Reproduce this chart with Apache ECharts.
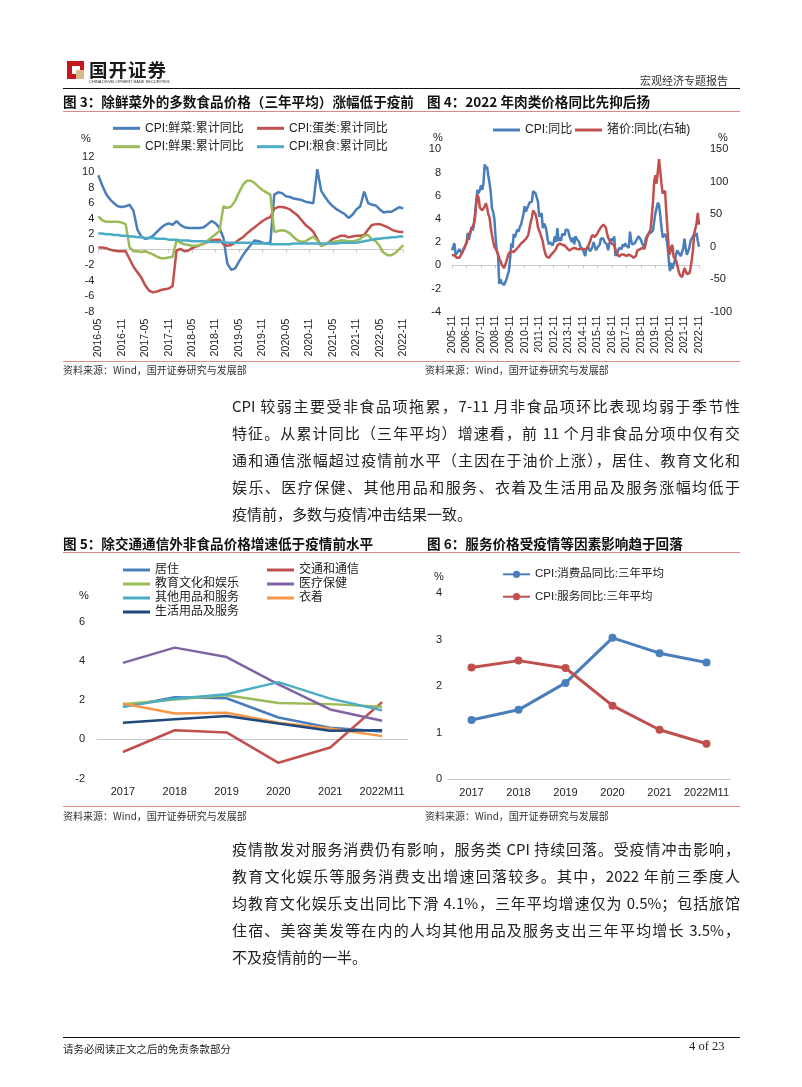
<!DOCTYPE html>
<html><head><meta charset="utf-8">
<script src="https://cdn.jsdelivr.net/npm/echarts@6.0.0/dist/echarts.min.js"></script>
<style>
html,body{margin:0;padding:0;background:#fff;}
#page{position:relative;width:802px;height:1087px;background:#fff;overflow:hidden;font-family:'Noto Sans CJK SC',sans-serif;color:#222;}
#c{position:absolute;left:0;top:0;width:802px;height:1087px;}
.t{position:absolute;white-space:nowrap;}
.rule{position:absolute;height:0;}
.ln{position:absolute;height:27px;line-height:27px;font-size:15px;color:#222;text-align:justify;text-align-last:justify;white-space:nowrap;}
.ln.last{text-align-last:left;}
.ttl{position:absolute;font-size:13.6px;font-weight:bold;color:#111;white-space:nowrap;}
.src{position:absolute;font-size:10px;color:#333;white-space:nowrap;}
.pct{position:absolute;font-size:11px;color:#222;font-family:'Liberation Sans',sans-serif;}
</style></head>
<body><div id="page">
<div id="c"></div>
</div>
<script>
// ---------- Figure 3 data (monthly, 2016-05 .. 2022-11) ----------
const f3Veg = [9.6,8.3,7.2,6.5,6.0,5.6,5.5,5.6,5.8,5.0,2.6,1.7,1.4,1.5,1.8,2.3,2.8,3.2,3.4,3.2,3.7,3.2,2.9,2.8,2.8,2.8,2.8,2.9,3.3,3.7,3.4,2.8,1.5,-1.8,-2.6,-2.4,-1.5,-0.7,0.0,0.6,1.2,1.1,0.9,0.8,0.9,7.1,7.4,7.3,6.9,6.8,6.6,6.5,6.4,6.2,6.1,6.0,10.4,7.6,6.8,6.1,5.6,5.2,4.9,4.6,4.1,4.5,5.2,5.6,7.5,6.0,5.8,5.7,5.2,4.8,4.9,4.9,5.2,5.5,5.3];
const f3Egg = [0.3,0.3,0.2,0.0,-0.1,-0.2,-0.2,-0.2,-1.2,-2.2,-2.9,-3.6,-4.6,-5.3,-5.5,-5.4,-5.2,-5.1,-5.0,-4.7,-0.1,0.1,-0.2,-0.1,0.2,0.4,0.6,0.8,1.0,1.2,1.3,1.3,0.7,0.5,0.6,0.9,1.3,1.6,2.1,2.5,2.9,3.3,3.7,4.0,4.2,5.3,5.5,5.5,5.4,5.2,4.8,4.4,3.8,3.2,2.8,2.3,1.4,0.5,0.7,1.0,1.4,1.6,1.8,1.8,1.6,1.7,1.8,1.8,1.9,2.6,3.2,3.3,3.3,3.1,2.9,2.6,2.4,2.3,2.3];
const f3Fruit = [4.3,3.8,3.6,3.6,3.6,3.6,3.5,3.3,0.3,-0.2,-0.2,-0.3,-0.2,-0.4,-0.6,-0.9,-1.1,-1.1,-1.0,-0.9,1.2,0.9,0.7,0.6,0.5,0.5,0.6,0.8,1.2,1.6,2.0,2.4,5.6,5.4,5.6,6.3,7.4,8.4,8.9,8.9,8.6,8.1,7.7,7.4,7.1,2.3,2.4,2.5,2.4,2.1,1.6,1.2,1.0,1.1,1.4,1.7,1.2,0.5,0.7,0.9,1.0,1.1,1.2,1.2,1.1,1.1,1.2,1.4,1.8,1.9,1.3,1.1,0.4,-0.4,-0.7,-0.7,-0.4,0.1,0.6];
const f3Grain = [2.1,2.1,2.0,2.0,1.9,1.9,1.8,1.8,1.7,1.7,1.6,1.6,1.5,1.5,1.5,1.4,1.4,1.4,1.3,1.3,1.3,1.2,1.2,1.2,1.1,1.1,1.1,1.1,1.0,1.0,1.0,1.0,1.0,0.9,0.9,0.9,0.9,0.9,0.9,0.9,0.8,0.8,0.8,0.8,0.7,0.7,0.7,0.7,0.7,0.7,0.8,0.8,0.8,0.8,0.8,0.8,0.8,0.8,0.8,0.8,0.8,0.8,0.9,0.9,0.9,0.9,0.9,1.0,1.1,1.2,1.3,1.4,1.4,1.5,1.5,1.6,1.6,1.7,1.7];
const f3Names = ['CPI:鲜菜:累计同比','CPI:蛋类:累计同比','CPI:鲜果:累计同比','CPI:粮食:累计同比'];

// ---------- Figure 4 data (monthly, 2005-11 .. 2022-11) ----------
const f4Cpi = [1.3,1.6,
1.9,0.9,0.8,1.2,1.4,1.5,1.0,1.3,1.5,1.4,1.9,2.8,
2.2,2.7,3.3,3.0,3.4,4.4,5.6,6.5,6.2,6.5,6.9,6.5,
7.1,8.7,8.3,8.5,7.7,7.1,6.3,4.9,4.6,4.0,2.4,1.2,
1.0,-1.6,-1.2,-1.5,-1.4,-1.7,-1.8,-1.2,-0.8,-0.5,0.6,1.9,
1.5,2.7,2.4,2.8,3.1,2.9,3.3,3.5,3.6,4.4,5.1,4.6,
4.9,4.9,5.4,5.3,5.5,6.4,6.5,6.2,6.1,5.5,4.2,4.1,
4.5,3.2,3.6,3.4,3.0,2.2,1.8,2.0,1.9,1.7,2.0,2.5,
2.0,3.2,2.1,2.4,2.1,2.7,2.7,2.6,3.1,3.2,3.0,2.5,
2.5,2.0,2.4,1.8,2.5,2.3,2.3,2.0,1.6,1.6,1.4,1.5,
0.8,1.4,1.4,1.5,1.2,1.4,1.6,2.0,1.6,1.3,1.5,1.6,
1.8,2.3,2.3,2.3,2.0,1.9,1.8,1.3,1.9,2.1,2.3,2.1,
2.5,0.8,0.9,1.2,1.5,1.5,1.4,1.8,1.6,1.9,1.7,1.8,
1.5,2.9,2.1,1.8,1.8,1.9,2.1,2.3,2.5,2.5,2.2,1.9,
1.7,1.5,2.3,2.5,2.7,2.7,2.8,2.8,3.0,3.8,4.5,4.5,
5.4,5.2,4.3,3.3,2.4,2.5,2.7,2.4,1.7,0.5,-0.5,0.2,
-0.3,-0.2,0.4,0.9,1.3,1.1,1.0,0.8,0.7,1.5,2.3,1.5,
0.9,0.9,1.5,2.1,2.1,2.5,2.7,2.5,2.8,2.1,1.6];
const f4Pork = [-13,-12,
-13,-15,-17,-18,-17,-14,-11,-7,-3,2,7,12,
18,22,27,30,35,45,65,80,75,60,57,56,
55,62,67,60,50,45,30,18,8,0,-3,-6,
-12,-18,-22,-27,-30,-33,-30,-22,-15,-10,-8,-7,
-9,-8,-6,-4,-3,0,3,5,6,8,10,12,
13,18,28,38,45,56,55,50,42,30,25,20,
18,8,-3,-10,-15,-18,-17,-14,-12,-10,-8,-5,
-3,2,4,5,4,3,4,2,0,-2,-5,-6,
-5,-3,-4,-2,-2,-3,-5,-4,-4,-3,-5,-4,
-5,-3,0,3,8,14,18,17,15,16,20,24,
26,30,32,34,36,30,21,14,10,8,5,5,
2,-5,-10,-12,-15,-14,-12,-13,-12,-13,-14,-15,
-12,-13,-14,-15,-17,-18,-14,-6,-5,-4,-3,-2,
-5,-3,5,14,18,21,27,47,69,101,110,97,
116,135,116,97,82,82,86,53,26,-3,-12,-1,
3,-15,-18,-21,-24,-36,-43,-45,-47,-44,-33,-37,
-42,-42,-41,-33,-21,-6,20,22,36,52,34];
const f4Names = ['CPI:同比','猪价:同比(右轴)'];

// ---------- Figure 5 / 6 data (annual) ----------
const yearCats = ['2017','2018','2019','2020','2021','2022M11'];
const f5Names = ['居住','交通和通信','教育文化和娱乐','医疗保健','其他用品和服务','衣着','生活用品及服务'];
const f5Housing = [1.66,2.15,2.10,1.12,0.60,0.40];
const f5Transport = [-0.64,0.47,0.36,-1.19,-0.41,1.90];
const f5Education = [1.80,2.03,2.25,1.86,1.80,1.66];
const f5Medical = [3.90,4.68,4.20,2.81,1.53,0.95];
const f5Other = [1.66,2.08,2.30,2.92,2.08,1.49];
const f5Clothing = [1.83,1.32,1.36,0.85,0.56,0.17];
const f5Household = [0.85,1.03,1.19,0.81,0.44,0.47];
const f6Names = ['CPI:消费品同比:三年平均','CPI:服务同比:三年平均'];
const f6Goods = [1.27,1.49,2.07,3.04,2.71,2.51];
const f6Services = [2.40,2.55,2.39,1.58,1.06,0.76];

// ---------- page text ----------
const para1 = ['CPI 较弱主要受非食品项拖累，7-11 月非食品项环比表现均弱于季节性',
'特征。从累计同比（三年平均）增速看，前 11 个月非食品分项中仅有交',
'通和通信涨幅超过疫情前水平（主因在于油价上涨），居住、教育文化和',
'娱乐、医疗保健、其他用品和服务、衣着及生活用品及服务涨幅均低于',
'疫情前，多数与疫情冲击结果一致。'];
const para2 = ['疫情散发对服务消费仍有影响，服务类 CPI 持续回落。受疫情冲击影响，',
'教育文化娱乐等服务消费支出增速回落较多。其中，2022 年前三季度人',
'均教育文化娱乐支出同比下滑 4.1%，三年平均增速仅为 0.5%；包括旅馆',
'住宿、美容美发等在内的人均其他用品及服务支出三年平均增长 3.5%，',
'不及疫情前的一半。'];

// month label helper (category names only)
function months(y, m, n){const a=[];for(let i=0;i<n;i++){const mm=((m-1+i)%12)+1;const yy=y+Math.floor((m-1+i)/12);a.push(yy+'-'+(mm<10?'0':'')+mm);}return a;}
const f3Cats = months(2016,5,f3Veg.length);
const f4Cats = months(2005,11,f4Cpi.length);

const C = {blue:'#4a7ebb',red:'#c0504d',green:'#9bbb59',cyan:'#4bacc6',purple:'#8064a2',orange:'#f79646',navy:'#1f497d'};
const FF = "'Liberation Sans','Noto Sans CJK SC',sans-serif";

// ---------- HTML text ----------
const page = document.getElementById('page');
function add(html, cls, style){const d=document.createElement('div');d.className=cls;d.innerHTML=html;Object.assign(d.style,style);page.appendChild(d);return d;}
function rule(x1,x2,y,w,col){add('','rule',{left:x1+'px',top:y+'px',width:(x2-x1)+'px',borderTop:w+'px solid '+col});}

// header
add('<div style="position:absolute;left:0;top:0;width:17px;height:18px;background:#c8161d"></div><div style="position:absolute;left:5px;top:5px;width:8px;height:8px;background:#fff"></div><div style="position:absolute;left:9px;top:9px;width:8px;height:9px;background:#d8b98a"></div>','t',{left:'67px',top:'61px',width:'17px',height:'18px'});
add('国开证券','t',{left:'89px',top:'56px',fontSize:'18.5px',fontWeight:'bold',color:'#1a1a1a',letterSpacing:'1px'});
add('CHINA DEVELOPMENT BANK SECURITIES','t',{left:'89px',top:'79px',fontSize:'8px',transform:'scale(0.5)',transformOrigin:'0 0',color:'#333',fontFamily:"'Liberation Sans',sans-serif"});
add('宏观经济专题报告','t',{left:'640px',top:'72px',fontSize:'11px',color:'#333'});
rule(63,740,88,1.5,'#111');

// figure titles
add('图 3：除鲜菜外的多数食品价格（三年平均）涨幅低于疫前','ttl',{left:'63px',top:'91px'});
add('图 4：2022 年肉类价格同比先抑后扬','ttl',{left:'427px',top:'91px'});
rule(63,740,111,1,'#d9898a');
rule(63,740,361,1,'#d9898a');
add('资料来源：Wind，国开证券研究与发展部','src',{left:'63px',top:'362px'});
add('资料来源：Wind，国开证券研究与发展部','src',{left:'425px',top:'362px'});
add('%','pct',{left:'81px',top:'132px'});
add('%','pct',{left:'433px',top:'131px'});
add('%','pct',{left:'718px',top:'131px'});

add('图 5：除交通通信外非食品价格增速低于疫情前水平','ttl',{left:'63px',top:'533px'});
add('图 6：服务价格受疫情等因素影响趋于回落','ttl',{left:'427px',top:'533px'});
rule(63,740,552,1,'#d9898a');
rule(63,740,806,1,'#d9898a');
add('资料来源：Wind，国开证券研究与发展部','src',{left:'63px',top:'808px'});
add('资料来源：Wind，国开证券研究与发展部','src',{left:'425px',top:'808px'});
add('%','pct',{left:'79px',top:'589px'});
add('%','pct',{left:'434px',top:'570px'});

// paragraphs
function para(lines, yc0, left, right, indent){
  lines.forEach((s,i)=>{
    const l = i===0 ? left+indent : left;
    add(s,'ln'+(i===lines.length-1?' last':''),{left:l+'px',width:(right-l)+'px',top:(yc0+27*i-13.5)+'px'});
  });
}
para(para1,405,232,740,0);
para(para2,848,232,740,0);

// footer
rule(63,740,1037,1.5,'#111');
add('请务必阅读正文之后的免责条款部分','t',{left:'63px',top:'1041px',fontSize:'10.5px',color:'#222'});
add('4 of 23','t',{left:'689px',top:'1039px',fontSize:'12.5px',color:'#222',fontFamily:"'Liberation Serif',serif"});

// ---------- ECharts ----------
const chart = echarts.init(document.getElementById('c'), null, {renderer:'canvas'});
function leg(name, x, yc, extra){
  return Object.assign({data:[name], left:x, top:yc-7, padding:0, itemWidth:27, itemHeight:3, icon:'rect', selectedMode:false,
    textStyle:{fontSize:12, color:'#222', lineHeight:14, fontFamily:FF}}, extra||{});
}
const lab = {fontSize:11, color:'#222', fontFamily:FF};
function line(name, data, color, xi, yi, w){
  return {name, type:'line', data, xAxisIndex:xi, yAxisIndex:yi, symbol:'none', smooth:false,
    lineStyle:{color, width:w||2.5}, itemStyle:{color}, silent:true};
}
const grids = [
  {left:98.3, top:156.7, width:305, height:155},
  {left:452, top:149.3, width:247, height:162.4},
  {left:97, top:621.7, width:311, height:157},
  {left:448, top:593.3, width:282, height:185.7}
];
const option = {
  animation:false,
  grid: grids,
  legend: [
    leg(f3Names[0],113,128.3), leg(f3Names[1],257,128.3), leg(f3Names[2],113,146.7), leg(f3Names[3],257,146.7),
    leg(f4Names[0],493,130), leg(f4Names[1],575,130),
    leg(f5Names[0],123,570), leg(f5Names[1],267,570), leg(f5Names[2],123,584), leg(f5Names[3],267,584),
    leg(f5Names[4],123,598), leg(f5Names[5],267,598), leg(f5Names[6],123,612),
    leg(f6Names[0],502,574.3,{icon:null,itemHeight:9,textStyle:{fontSize:11.5,color:'#222',lineHeight:14,fontFamily:FF}}),
    leg(f6Names[1],502,596.7,{icon:null,itemHeight:9,textStyle:{fontSize:11.5,color:'#222',lineHeight:14,fontFamily:FF}})
  ],
  xAxis: [
    {gridIndex:0, type:'category', data:f3Cats, boundaryGap:false, position:'bottom',
      axisLine:{show:false,onZero:false}, axisTick:{show:false},
      axisLabel:{interval:5, rotate:90, margin:7, fontSize:10.5, color:'#222', fontFamily:FF}},
    {gridIndex:0, type:'category', data:f3Cats, boundaryGap:false, position:'bottom',
      axisLine:{show:true,onZero:true,onZeroAxisIndex:0,lineStyle:{color:'#c8c8c8',width:1}},
      axisTick:{show:true,interval:5,length:3,lineStyle:{color:'#c8c8c8'}}, axisLabel:{show:false}},
    {gridIndex:1, type:'category', data:f4Cats, boundaryGap:false, position:'bottom',
      axisLine:{show:false,onZero:false}, axisTick:{show:false},
      axisLabel:{interval:11, rotate:90, margin:4, fontSize:10.5, color:'#222', fontFamily:FF}},
    {gridIndex:1, type:'category', data:f4Cats, boundaryGap:false, position:'bottom',
      axisLine:{show:true,onZero:true,onZeroAxisIndex:1,lineStyle:{color:'#c8c8c8',width:1}},
      axisTick:{show:true,interval:11,length:3,lineStyle:{color:'#c8c8c8'}}, axisLabel:{show:false}},
    {gridIndex:2, type:'category', data:yearCats, boundaryGap:true, position:'bottom',
      axisLine:{show:false,onZero:false}, axisTick:{show:false},
      axisLabel:Object.assign({margin:8, interval:0},lab)},
    {gridIndex:2, type:'category', data:yearCats, boundaryGap:true, position:'bottom',
      axisLine:{show:true,onZero:true,onZeroAxisIndex:3,lineStyle:{color:'#c8c8c8',width:1}},
      axisTick:{show:false}, axisLabel:{show:false}},
    {gridIndex:3, type:'category', data:yearCats, boundaryGap:true, position:'bottom',
      axisLine:{show:true,lineStyle:{color:'#c8c8c8',width:1}}, axisTick:{show:false},
      axisLabel:Object.assign({margin:8, interval:0},lab)}
  ],
  yAxis: [
    {gridIndex:0, type:'value', min:-8, max:12, interval:2, splitLine:{show:false}, axisLine:{show:false}, axisTick:{show:false}, axisLabel:Object.assign({margin:4},lab)},
    {gridIndex:1, type:'value', min:-4, max:10, interval:2, splitLine:{show:false}, axisLine:{show:false}, axisTick:{show:false}, axisLabel:Object.assign({margin:11},lab)},
    {gridIndex:1, type:'value', position:'right', min:-100, max:150, interval:50, splitLine:{show:false}, axisLine:{show:false}, axisTick:{show:false}, axisLabel:Object.assign({margin:11},lab)},
    {gridIndex:2, type:'value', min:-2, max:6, interval:2, splitLine:{show:false}, axisLine:{show:false}, axisTick:{show:false}, axisLabel:Object.assign({margin:12},lab)},
    {gridIndex:3, type:'value', min:0, max:4, interval:1, splitLine:{show:false}, axisLine:{show:false}, axisTick:{show:false}, axisLabel:Object.assign({margin:6},lab)}
  ],
  series: [
    line(f3Names[0], f3Veg, C.blue, 0, 0),
    line(f3Names[1], f3Egg, C.red, 0, 0),
    line(f3Names[2], f3Fruit, C.green, 0, 0),
    line(f3Names[3], f3Grain, C.cyan, 0, 0),
    line(f4Names[0], f4Cpi, C.blue, 2, 1),
    line(f4Names[1], f4Pork, C.red, 2, 2),
    line(f5Names[0], f5Housing, C.blue, 4, 3),
    line(f5Names[1], f5Transport, C.red, 4, 3),
    line(f5Names[2], f5Education, C.green, 4, 3),
    line(f5Names[3], f5Medical, C.purple, 4, 3),
    line(f5Names[4], f5Other, C.cyan, 4, 3),
    line(f5Names[5], f5Clothing, C.orange, 4, 3),
    line(f5Names[6], f5Household, C.navy, 4, 3),
    Object.assign(line(f6Names[0], f6Goods, C.blue, 6, 4, 3), {symbol:'circle', symbolSize:8, showSymbol:true}),
    Object.assign(line(f6Names[1], f6Services, C.red, 6, 4, 3), {symbol:'circle', symbolSize:8, showSymbol:true})
  ]
};
chart.setOption(option);
</script>
</body></html>
